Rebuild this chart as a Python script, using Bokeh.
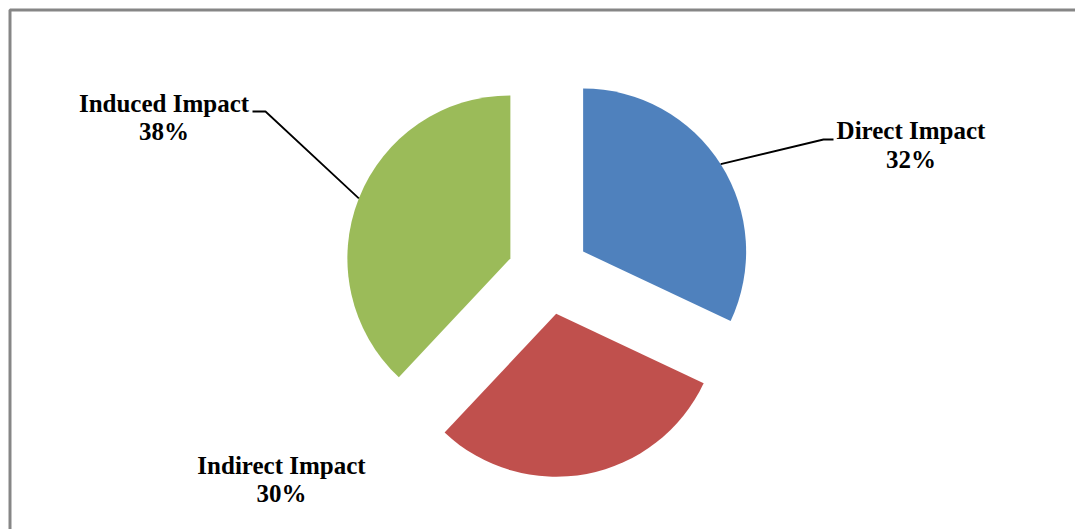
import math
from bokeh.plotting import figure
from bokeh.models import Range1d
from bokeh.core.properties import value
from bokeh.embed import file_html
from bokeh.resources import INLINE

# ---- data ----
categories = ["Direct Impact", "Indirect Impact", "Induced Impact"]
shares = [32, 30, 38]
colors = ["#4F81BD", "#C0504D", "#9BBB59"]

W, H = 1075, 529
def sy(y):  # screen y (down) -> data y (up)
    return H - y

# ---- layout ----
cx, cy = 548, sy(273)   # pie centre
R = 163                  # radius (px)
explode = 41             # explosion offset (px)

# label layout (screen coords): centre x, baseline of line1, baseline of line2
label_pos = {
    "Direct Impact": (910.5, 130, 159),
    "Indirect Impact": (281, 465, 493),
    "Induced Impact": (163.5, 103, 131),
}
# leader elbows (screen coords): elbow point and end of horizontal tick
leader = {
    "Direct Impact": ((823, 139), (833, 139)),
    "Induced Impact": ((265, 111), (252, 111)),
}

p = figure(width=W, height=H, x_range=Range1d(0, W), y_range=Range1d(0, H),
           output_backend="svg", toolbar_location=None, min_border=0)
p.axis.visible = False
p.grid.visible = False
p.outline_line_color = None
p.background_fill_color = "white"
p.border_fill_color = "white"

# frame
p.line(x=[9.5, 9.5, W + 10], y=[-10, sy(9.5), sy(9.5)], line_color="#868686", line_width=3)

total = sum(shares)
cum = 0.0
for cat, s, col in zip(categories, shares, colors):
    ts = 360.0 * cum / total
    te = 360.0 * (cum + s) / total
    tm = (ts + te) / 2
    cum += s
    ux, uy = math.sin(math.radians(tm)), math.cos(math.radians(tm))
    kx, ky = cx + explode * ux, cy + explode * uy
    p.wedge(x=[kx], y=[ky], radius=R, radius_units="screen",
            start_angle=math.radians(90 - ts), end_angle=math.radians(90 - te),
            direction="clock", fill_color=col, line_color=None)
    if cat in leader:
        ax, ay = kx + R * ux, ky + R * uy
        (ex, ey), (tx, ty) = leader[cat]
        p.line(x=[ax, ex, tx], y=[ay, sy(ey), sy(ty)], line_color="black", line_width=1.8)
    lx, b1, b2 = label_pos[cat]
    for txt, b in ((cat, b1), (f"{s}%", b2)):
        p.text(x=[lx], y=[sy(b)], text=[txt], text_font=value("Liberation Serif"),
               text_font_style="bold", text_font_size="25px", text_align="center",
               text_baseline="alphabetic", text_color="black")

open("out.html", "w").write(file_html(p, INLINE))
